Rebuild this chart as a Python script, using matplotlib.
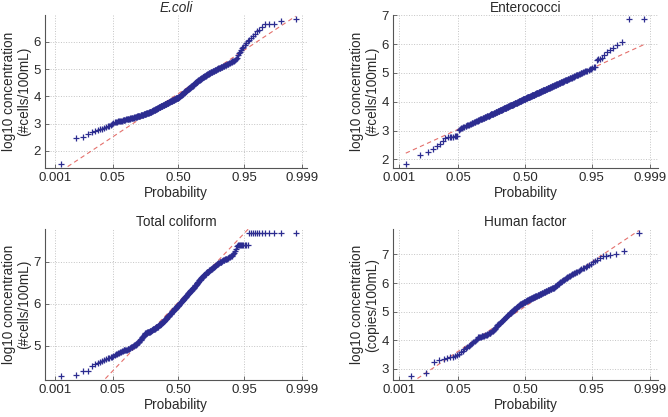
"""
Normal probability plots of log10 concentrations for four indicators.
Values are the sorted sample read off the reference figure; plotting
positions are (i - 0.5) / n on a normal-probability x axis, and the
dashed reference line joins the 1st and 3rd quartiles (MATLAB normplot).
"""

from statistics import NormalDist

import numpy as np
import matplotlib
matplotlib.use('Agg')
import matplotlib.pyplot as plt
from matplotlib.ticker import MultipleLocator

# ── data: sorted log10 concentrations ─────────────────────────────────────
ECOLI = [
    1.50, 2.48, 2.51, 2.60, 2.68, 2.72, 2.75, 2.78, 2.80, 2.83,
    2.86, 2.89, 2.92, 2.96, 3.00, 3.03,
    3.05, 3.06, 3.07, 3.08, 3.09, 3.09, 3.10, 3.11, 3.12, 3.12,
    3.13, 3.14, 3.15, 3.15, 3.16, 3.17, 3.18, 3.18, 3.19,
    3.20, 3.20, 3.21, 3.21, 3.22, 3.23, 3.23, 3.24, 3.25, 3.25,
    3.26, 3.27, 3.27, 3.28, 3.29, 3.29, 3.30, 3.31, 3.31, 3.32,
    3.33, 3.33, 3.34, 3.34, 3.35, 3.35, 3.36, 3.36, 3.37, 3.37,
    3.38, 3.38, 3.39, 3.40, 3.41, 3.41, 3.42, 3.43, 3.44, 3.44,
    3.45, 3.46, 3.47, 3.47, 3.48, 3.49, 3.50, 3.50, 3.51, 3.52,
    3.53, 3.54, 3.54, 3.55, 3.56, 3.57, 3.57, 3.58, 3.59, 3.60,
    3.60, 3.61, 3.62, 3.63, 3.63, 3.64, 3.65, 3.66, 3.66, 3.67, 3.67,
    3.68, 3.69, 3.69, 3.70, 3.71, 3.71, 3.72, 3.73, 3.73, 3.74,
    3.75, 3.75, 3.76, 3.77, 3.77, 3.78, 3.79, 3.79, 3.80, 3.81,
    3.81, 3.82, 3.83, 3.83, 3.84, 3.85, 3.85, 3.86, 3.87, 3.87,
    3.88, 3.89, 3.89, 3.90, 3.91, 3.91, 3.92, 3.93, 3.93, 3.94,
    3.94, 3.95, 3.95, 3.96,
    3.97, 3.98, 3.99, 4.00, 4.01, 4.02, 4.03, 4.04, 4.05, 4.06,
    4.07, 4.08, 4.09, 4.10, 4.11, 4.12, 4.14, 4.15, 4.16, 4.17,
    4.18, 4.19, 4.20, 4.21, 4.22, 4.23, 4.24, 4.25, 4.26, 4.27,
    4.28, 4.29, 4.30, 4.31, 4.32, 4.33, 4.34, 4.35, 4.36, 4.37,
    4.38, 4.39, 4.40, 4.41, 4.42, 4.44, 4.45, 4.47, 4.49,
    4.50, 4.51, 4.52, 4.53, 4.54, 4.55, 4.56, 4.57, 4.58, 4.59,
    4.60, 4.61, 4.62, 4.63, 4.64, 4.65, 4.66, 4.67, 4.68, 4.69,
    4.70, 4.71, 4.72, 4.73, 4.74, 4.75, 4.76, 4.77, 4.78, 4.79,
    4.80, 4.81, 4.82, 4.83, 4.84, 4.85, 4.86, 4.87, 4.88, 4.88, 4.89,
    4.90, 4.91, 4.92, 4.93, 4.94, 4.95, 4.96, 4.97, 4.98, 4.99,
    5.00, 5.01, 5.02, 5.03, 5.04, 5.05, 5.06, 5.07, 5.08, 5.09,
    5.10, 5.11, 5.12, 5.13, 5.14, 5.15, 5.17, 5.18, 5.20, 5.21,
    5.23, 5.24, 5.26, 5.28,
    5.29, 5.30, 5.32, 5.36, 5.42, 5.50, 5.58, 5.64, 5.70, 5.76,
    5.82, 5.88, 5.95, 6.02, 6.08, 6.15, 6.22, 6.30, 6.38, 6.45,
    6.55, 6.64, 6.67, 6.67, 6.76, 6.85,
]

ENTEROCOCCI = [
    1.83, 2.15, 2.27, 2.36, 2.46, 2.55, 2.64, 2.76, 2.78, 2.78,
    2.79, 2.79, 2.80, 2.80, 2.82, 3.02,
    3.06, 3.08, 3.10, 3.12, 3.14, 3.15, 3.17, 3.18, 3.20,
    3.21, 3.23, 3.24, 3.26, 3.27,
    3.28, 3.29, 3.30, 3.31, 3.32, 3.33, 3.34, 3.35, 3.37, 3.38,
    3.39, 3.40, 3.41, 3.41, 3.42, 3.43, 3.44, 3.45, 3.46, 3.47,
    3.48, 3.48, 3.49, 3.50, 3.51, 3.51, 3.52, 3.53, 3.54, 3.55,
    3.56, 3.56, 3.57, 3.58, 3.59, 3.59, 3.60, 3.61, 3.61, 3.62, 3.63, 3.64, 3.64, 3.65, 3.66,
    3.67, 3.67, 3.68, 3.69, 3.69, 3.70, 3.71, 3.71, 3.72, 3.73, 3.73, 3.74, 3.75, 3.75, 3.76,
    3.77, 3.77, 3.78, 3.78, 3.79, 3.80, 3.80, 3.81, 3.81, 3.82, 3.83, 3.83, 3.84, 3.84, 3.85,
    3.86, 3.86, 3.87, 3.87, 3.88, 3.88, 3.89, 3.89, 3.90, 3.90, 3.91, 3.91, 3.92, 3.92, 3.93,
    3.94, 3.94, 3.95, 3.95, 3.96, 3.97, 3.97, 3.98, 3.98, 3.99, 3.99, 4.00, 4.01, 4.01, 4.02,
    4.02, 4.03, 4.04, 4.04, 4.05, 4.05, 4.06, 4.06, 4.07, 4.08, 4.08, 4.09, 4.09, 4.10, 4.10,
    4.11, 4.11, 4.12, 4.13, 4.13, 4.14, 4.14, 4.15, 4.15, 4.16, 4.16, 4.17, 4.17, 4.18, 4.18,
    4.19, 4.19, 4.20, 4.21, 4.21, 4.22, 4.22, 4.23, 4.23, 4.24, 4.24, 4.25, 4.25, 4.26, 4.26,
    4.27, 4.27, 4.28, 4.29, 4.29, 4.30, 4.30, 4.31, 4.31, 4.32, 4.33, 4.33, 4.34, 4.34, 4.35,
    4.35, 4.36, 4.37, 4.37, 4.38, 4.38, 4.39, 4.39, 4.40, 4.41, 4.41, 4.42, 4.42, 4.43, 4.43,
    4.44, 4.45, 4.45, 4.46, 4.47, 4.47, 4.48, 4.48, 4.49, 4.50, 4.50, 4.51, 4.52, 4.52, 4.53,
    4.54, 4.54, 4.55, 4.56, 4.57, 4.57, 4.58, 4.59, 4.59, 4.60, 4.61, 4.62, 4.62, 4.63, 4.64,
    4.65, 4.65, 4.66, 4.67, 4.68, 4.69, 4.69, 4.70, 4.71, 4.72,
    4.73, 4.74, 4.75, 4.75, 4.76, 4.77, 4.78, 4.79, 4.80, 4.81,
    4.82, 4.83, 4.84, 4.85, 4.86, 4.87, 4.88, 4.89, 4.91, 4.92,
    4.93, 4.94, 4.95, 4.97, 4.98,
    4.99, 5.00, 5.02, 5.03, 5.05, 5.06, 5.08, 5.10, 5.12, 5.15,
    5.17, 5.20, 5.22, 5.46, 5.47, 5.49, 5.50, 5.62, 5.72, 5.80,
    5.86, 5.95, 6.06, 6.86, 6.88,
]

TOTAL_COLIFORM = [
    4.27, 4.31, 4.39, 4.40, 4.52, 4.56, 4.60, 4.62, 4.64, 4.66,
    4.68, 4.70, 4.72, 4.73, 4.74, 4.76, 4.78, 4.80, 4.81, 4.82,
    4.84, 4.85, 4.86, 4.87, 4.88, 4.89, 4.90,
    4.90, 4.91, 4.91, 4.92, 4.93, 4.93, 4.94,
    4.95, 4.96, 4.97, 4.98, 4.99, 5.00, 5.01, 5.02, 5.03, 5.04,
    5.05, 5.06, 5.08, 5.09, 5.10, 5.12, 5.13,
    5.14, 5.16, 5.18, 5.20, 5.21, 5.23, 5.24, 5.26, 5.27, 5.29,
    5.30, 5.30, 5.31, 5.31, 5.32, 5.32, 5.33, 5.33, 5.34, 5.34,
    5.35, 5.35, 5.36, 5.36, 5.37, 5.38, 5.38, 5.39, 5.39, 5.40,
    5.41, 5.41, 5.42, 5.42, 5.43, 5.44, 5.44, 5.45,
    5.46, 5.46, 5.47, 5.48, 5.49, 5.49, 5.50, 5.51, 5.52, 5.52,
    5.53, 5.54, 5.55, 5.55, 5.56, 5.57, 5.57,
    5.58, 5.59, 5.60, 5.61, 5.62, 5.63, 5.64, 5.65, 5.66, 5.67,
    5.68, 5.69, 5.70, 5.70, 5.71, 5.72, 5.73, 5.74, 5.75, 5.76,
    5.77, 5.78, 5.79, 5.80, 5.81, 5.82, 5.83, 5.84, 5.84, 5.85,
    5.86, 5.87, 5.88, 5.89, 5.90, 5.91, 5.91, 5.92, 5.93, 5.94,
    5.95, 5.95, 5.96, 5.97,
    5.98, 5.99, 6.00, 6.01, 6.02, 6.03, 6.04, 6.04, 6.05, 6.06,
    6.07, 6.08, 6.09, 6.10, 6.11, 6.12, 6.13, 6.14, 6.15, 6.16,
    6.17, 6.17, 6.18, 6.19, 6.20, 6.21, 6.22, 6.23, 6.24, 6.25,
    6.26, 6.27, 6.28, 6.29, 6.30, 6.30, 6.31, 6.32, 6.33, 6.34,
    6.35, 6.36, 6.37, 6.38, 6.39, 6.40, 6.41, 6.42, 6.43,
    6.44, 6.45, 6.46, 6.48, 6.49, 6.50, 6.51, 6.52, 6.53, 6.54,
    6.56, 6.57, 6.58, 6.59, 6.60, 6.61, 6.62, 6.63, 6.64, 6.65,
    6.66, 6.67,
    6.68, 6.69, 6.70, 6.71, 6.72, 6.73, 6.74, 6.75, 6.76, 6.76,
    6.77, 6.78, 6.79, 6.80, 6.81, 6.81, 6.82, 6.83, 6.84,
    6.85, 6.86, 6.87, 6.88, 6.89, 6.90, 6.91, 6.92, 6.93, 6.94,
    6.95, 6.96, 6.97, 6.98, 6.99, 7.00,
    7.01, 7.01, 7.02, 7.03, 7.04, 7.05, 7.05, 7.06, 7.07, 7.08,
    7.08, 7.09, 7.10, 7.11, 7.12, 7.14, 7.15, 7.17, 7.19,
    7.22, 7.26, 7.32, 7.38,
    7.40, 7.40, 7.40, 7.40, 7.40, 7.40, 7.40, 7.40, 7.40,
    7.70, 7.70, 7.70, 7.70, 7.70, 7.70, 7.70, 7.70, 7.70, 7.70,
    7.70, 7.70,
]

HUMAN_FACTOR = [
    2.74, 2.85, 3.25, 3.31, 3.36, 3.38, 3.40, 3.42, 3.44, 3.48,
    3.53, 3.58, 3.63, 3.68, 3.72, 3.77, 3.80, 3.84, 3.87, 3.90,
    3.94, 3.97, 4.01, 4.05, 4.10, 4.11, 4.12, 4.13, 4.14, 4.15,
    4.15, 4.16, 4.17, 4.18, 4.19,
    4.21, 4.22, 4.24, 4.25, 4.27, 4.29, 4.31, 4.33, 4.35, 4.37,
    4.40, 4.43, 4.46, 4.49, 4.52, 4.54, 4.56, 4.58, 4.60, 4.62,
    4.64, 4.66, 4.68, 4.70, 4.72, 4.74, 4.76, 4.78, 4.80, 4.82, 4.84,
    4.86, 4.88, 4.90, 4.92, 4.94, 4.96, 4.97, 4.99, 5.00, 5.02,
    5.04, 5.05, 5.07, 5.08, 5.10, 5.11, 5.13, 5.14, 5.16, 5.17,
    5.19, 5.20, 5.22, 5.23, 5.25,
    5.26, 5.27, 5.28, 5.29, 5.30, 5.31, 5.32, 5.33, 5.34, 5.35,
    5.36, 5.37, 5.38, 5.39, 5.40, 5.41, 5.42,
    5.43, 5.44, 5.45, 5.45, 5.46, 5.47, 5.48, 5.49, 5.50, 5.51,
    5.51, 5.52, 5.53, 5.54, 5.55, 5.56, 5.57, 5.57, 5.58, 5.59,
    5.60, 5.61, 5.62,
    5.63, 5.64, 5.65, 5.66, 5.67, 5.68, 5.69, 5.70, 5.71, 5.72,
    5.73, 5.74, 5.75, 5.76, 5.77, 5.78, 5.79, 5.80, 5.81, 5.82,
    5.83, 5.84,
    5.86, 5.88, 5.90, 5.92, 5.94, 5.96, 5.98, 6.00, 6.02, 6.04,
    6.06, 6.08, 6.10, 6.12, 6.14, 6.16, 6.18,
    6.20, 6.22, 6.24, 6.26, 6.28, 6.30, 6.32, 6.34, 6.36, 6.38,
    6.40, 6.42, 6.45,
    6.48, 6.51, 6.54, 6.57, 6.60, 6.63, 6.67,
    6.72, 6.77, 6.82, 6.87,
    6.93, 6.96, 6.98, 7.02, 7.13, 7.76,
]

TITLES = ['E.coli', 'Enterococci', 'Total coliform', 'Human factor']
YLABELS = [
    'log10 concentration\n(#cells/100mL)',
    'log10 concentration\n(#cells/100mL)',
    'log10 concentration\n(#cells/100mL)',
    'log10 concentration\n(copies/100mL)',
]
PROB_TICKS = [0.001, 0.05, 0.50, 0.95, 0.999]
PROB_LABELS = ['0.001', '0.05', '0.50', '0.95', '0.999']

# ── layout / style ────────────────────────────────────────────────────────
W, H = 668, 417
# axes boxes in pixels: left, top, right, bottom
BOXES = [
    (45, 15, 307, 168),
    (393, 15, 658, 168),
    (45, 229, 307, 380),
    (393, 229, 658, 380),
]
XLIMS = [(-3.34, 3.22), (-3.25, 3.28), (-3.34, 3.22), (-3.25, 3.28)]

BLUE = '#2c2c90'
RED = '#e4706c'
TEXT = '#2a2a2a'
SPINE = '#555555'

plt.rcParams['font.family'] = ['Liberation Sans', 'DejaVu Sans']

ND = NormalDist()


def normplot(ax, values, title, ylabel, xlim, italic=False):
    y = np.sort(np.asarray(values, dtype=float))
    n = len(y)
    p = (np.arange(1, n + 1) - 0.5) / n
    z = np.array([ND.inv_cdf(v) for v in p])

    # reference line through the 1st and 3rd quartiles, extended to the ends
    q1, q3 = np.percentile(y, [25, 75])
    z75 = ND.inv_cdf(0.75)
    slope = (q3 - q1) / (2 * z75)
    mid = (q1 + q3) / 2
    zl = np.array([z[0], z[-1]])
    ax.plot(zl, mid + slope * zl, color=RED, linestyle=(0, (4, 3)),
            linewidth=0.8, zorder=2)

    ax.plot(z, y, linestyle='none', marker='+', markersize=4.2,
            markeredgewidth=0.9, color=BLUE, zorder=3)

    rng = y.max() - y.min()
    ax.set_ylim(y.min() - 0.025 * rng, y.max() + 0.025 * rng)
    ax.set_xlim(*xlim)

    ax.set_xticks([ND.inv_cdf(v) for v in PROB_TICKS])
    ax.set_xticklabels(PROB_LABELS)
    ax.yaxis.set_major_locator(MultipleLocator(1))
    ax.grid(True, linestyle=':', color='#c4c4c4', linewidth=0.7, zorder=0)

    for side in ('top', 'right'):
        ax.spines[side].set_visible(False)
    for side in ('left', 'bottom'):
        ax.spines[side].set_color(SPINE)
        ax.spines[side].set_linewidth(0.8)
    ax.tick_params(direction='in', length=3, width=0.6, colors=SPINE,
                   labelcolor=TEXT, labelsize=9.5, pad=3)

    ax.set_title(title, fontsize=9.8, color=TEXT, pad=2.5,
                 fontstyle='italic' if italic else 'normal')
    ax.set_xlabel('Probability', fontsize=9.8, color=TEXT, labelpad=1.5)
    ax.set_ylabel(ylabel, fontsize=9.8, color=TEXT, labelpad=2,
                  linespacing=1.1)


def main():
    fig = plt.figure(figsize=(W / 100, H / 100), dpi=100)
    datasets = [ECOLI, ENTEROCOCCI, TOTAL_COLIFORM, HUMAN_FACTOR]
    for k, (vals, box) in enumerate(zip(datasets, BOXES)):
        l, t, r, b = box
        ax = fig.add_axes([l / W, 1 - b / H, (r - l) / W, (b - t) / H])
        normplot(ax, vals, TITLES[k], YLABELS[k], XLIMS[k], italic=(k == 0))
    fig.savefig('out.png', dpi=100, facecolor='white')
    plt.close(fig)


if __name__ == '__main__':
    main()
